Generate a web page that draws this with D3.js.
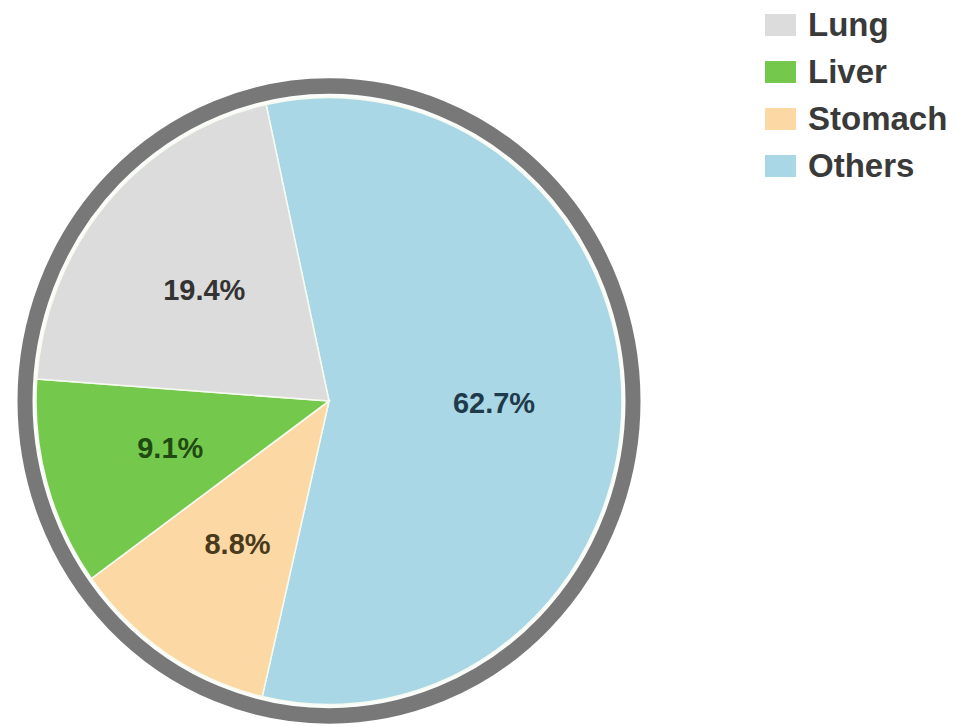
<!DOCTYPE html>
<html>
<head>
<meta charset="utf-8">
<script src="https://cdn.jsdelivr.net/npm/d3@7"></script>
<style>
  body { margin: 0; background: #fff; }
  svg { display: block; font-family: "Liberation Sans", Arial, sans-serif; }
</style>
</head>
<body>
<div id="chart"></div>
<script>
const width = 955
const height = 727

// legend order
const categories = ['Lung', 'Liver', 'Stomach', 'Others']
const labels = ['19.4%', '9.1%', '8.8%', '62.7%']
// slice sizes as they are drawn in the picture (the drawing does not follow the printed labels)
const sliceShares = [20.4, 11.1, 11.4, 57.1]
const colors = ['#dcdcdc', '#74c94d', '#fcd9a4', '#a9d7e6']
const labelColors = ['#333333', '#1f4a12', '#4a3a1c', '#1f3a4a']

const cx = 329, cy = 401
const stretch = 1.036   // the picture is a bit taller than wide
const pieRadius = 293
const ringRadius = 304

const svg = d3.select('#chart').append('svg')
  .attr('width', width)
  .attr('height', height)

const g = svg.append('g')
  .attr('transform', `translate(${cx},${cy}) scale(1,${stretch})`)

const data = categories.map((c, i) => ({ name: c, value: sliceShares[i], label: labels[i], color: colors[i], labelColor: labelColors[i] }))

// clockwise from just left of the top: Others, Stomach, Liver, Lung
const startAngle = -12.4 * Math.PI / 180
const pie = d3.pie()
  .sort(null)
  .value(d => d.value)
  .startAngle(startAngle)
  .endAngle(startAngle + 2 * Math.PI)

const arcs = pie(data.slice().reverse())

const arc = d3.arc().innerRadius(0).outerRadius(pieRadius)
const labelArc = d3.arc().innerRadius(165).outerRadius(165)

// white gap between ring and slices
g.append('circle')
  .attr('r', ringRadius)
  .attr('fill', '#fbfdfb')

g.selectAll('path.slice')
  .data(arcs)
  .enter().append('path')
  .attr('class', 'slice')
  .attr('d', arc)
  .attr('fill', d => d.data.color)
  .attr('stroke', '#f6faf0')
  .attr('stroke-width', 1.5)

// grey ring around the pie
g.append('circle')
  .attr('r', ringRadius)
  .attr('fill', 'none')
  .attr('stroke', '#787878')
  .attr('stroke-width', 15)

g.selectAll('text.pct')
  .data(arcs)
  .enter().append('text')
  .attr('class', 'pct')
  .attr('transform', d => 'translate(' + labelArc.centroid(d) + ')')
  .attr('text-anchor', 'middle')
  .attr('dy', '0.36em')
  .attr('fill', d => d.data.labelColor)
  .style('font-size', '29px')
  .style('font-weight', 700)
  .text(d => d.data.label)

// legend
const legend = svg.append('g')
  .attr('transform', 'translate(765,36)')

const rows = legend.selectAll('g')
  .data(data)
  .enter().append('g')
  .attr('transform', (d, i) => `translate(0,${i * 47})`)

rows.append('rect')
  .attr('x', 0)
  .attr('y', -22)
  .attr('width', 31)
  .attr('height', 22)
  .attr('fill', d => d.color)

rows.append('text')
  .attr('x', 43)
  .attr('y', 0)
  .attr('fill', '#3a3a3a')
  .style('font-size', '33px')
  .style('font-weight', 700)
  .text(d => d.name)
</script>
</body>
</html>
